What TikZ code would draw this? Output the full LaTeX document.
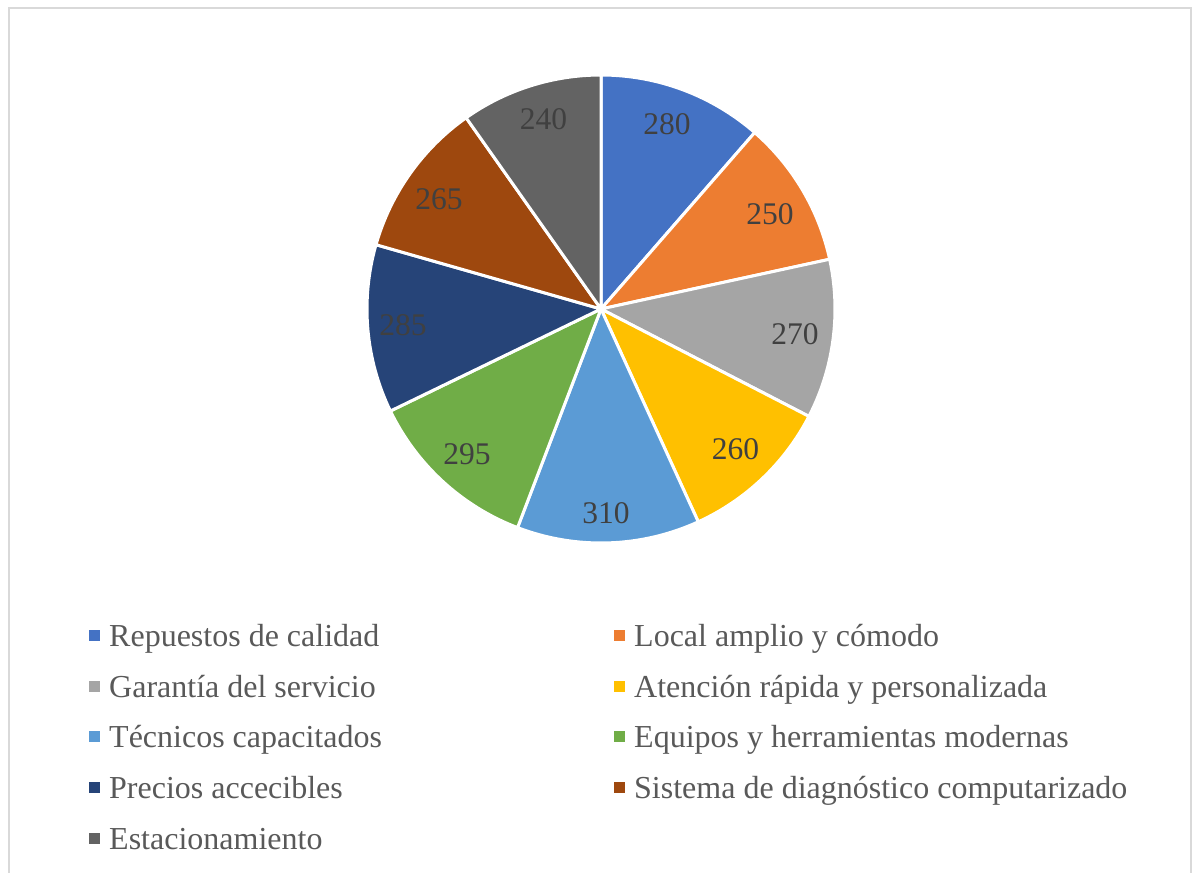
\documentclass[tikz,border=0pt]{standalone}
\usepackage{fontspec}
\setmainfont{Liberation Serif}
\definecolor{c1}{HTML}{4472C4}
\definecolor{c2}{HTML}{ED7D31}
\definecolor{c3}{HTML}{A5A5A5}
\definecolor{c4}{HTML}{FFC000}
\definecolor{c5}{HTML}{5B9BD5}
\definecolor{c6}{HTML}{70AD47}
\definecolor{c7}{HTML}{264478}
\definecolor{c8}{HTML}{9E480E}
\definecolor{c9}{HTML}{636363}
\definecolor{lbltxt}{HTML}{404040}
\definecolor{legtxt}{HTML}{595959}
\definecolor{framec}{HTML}{D9D9D9}
\begin{document}
\begin{tikzpicture}[x=1pt,y=1pt,
  slice/.style={draw=white,line width=3pt,line join=round},
  lbl/.style={text=lbltxt,font=\fontsize{31.5}{36}\selectfont,inner sep=0pt},
  legbox/.style={minimum size=11pt,inner sep=0pt},
  legtext/.style={text=legtxt,font=\fontsize{32}{38}\selectfont,anchor=base west,inner sep=0pt}]
\useasboundingbox (0,0) rectangle (1192,-873);
\fill[white] (0,0) rectangle (1192,-873);
\draw[framec,line width=1.5pt] (9,-873) -- (9,-8) -- (1191,-8) -- (1191,-873);
% pie
\begin{scope}[shift={(601,-309)}]
\coordinate (o) at (0,0);
\foreach \s/\e/\c [count=\i] in {90/48.941/c1, 48.941/12.281/c2, 12.281/-27.312/c3, -27.312/-65.438/c4, -65.438/-110.896/c5, -110.896/-154.155/c6, -154.155/-195.947/c7, -195.947/-234.806/c8, -234.806/-270/c9}{
  \filldraw[fill=\c,slice] (o) -- (\s:234) arc[start angle=\s,end angle=\e,radius=234] -- cycle;
}
\end{scope}
% data labels
\foreach \x/\y/\v [count=\i] in {667/124/280, 770/214/250, 795/334/270, 735.5/449.5/260, 606/513.5/310, 467/454/295, 403/325.5/285, 439/199.5/265, 543.5/119.5/240}{
  \node[lbl] (v\i) at (\x,-\y) {\v};
}
% legend
\foreach \x/\y/\c/\t [count=\i] in {
  94/646.5/c1/{Repuestos de calidad},
  619/646.5/c2/{Local amplio y cómodo},
  94/697.5/c3/{Garantía del servicio},
  619/697.5/c4/{Atención rápida y personalizada},
  94/747.5/c5/{Técnicos capacitados},
  619/747.5/c6/{Equipos y herramientas modernas},
  94/798.5/c7/{Precios accecibles},
  619/798.5/c8/{Sistema de diagnóstico computarizado},
  94/849.5/c9/{Estacionamiento}}{
  \node[legbox,fill=\c] (k\i) at (\x,-\y+11) {};
  \node[legtext] (t\i) at (\x+15,-\y) {\t};
}
\end{tikzpicture}
\end{document}
